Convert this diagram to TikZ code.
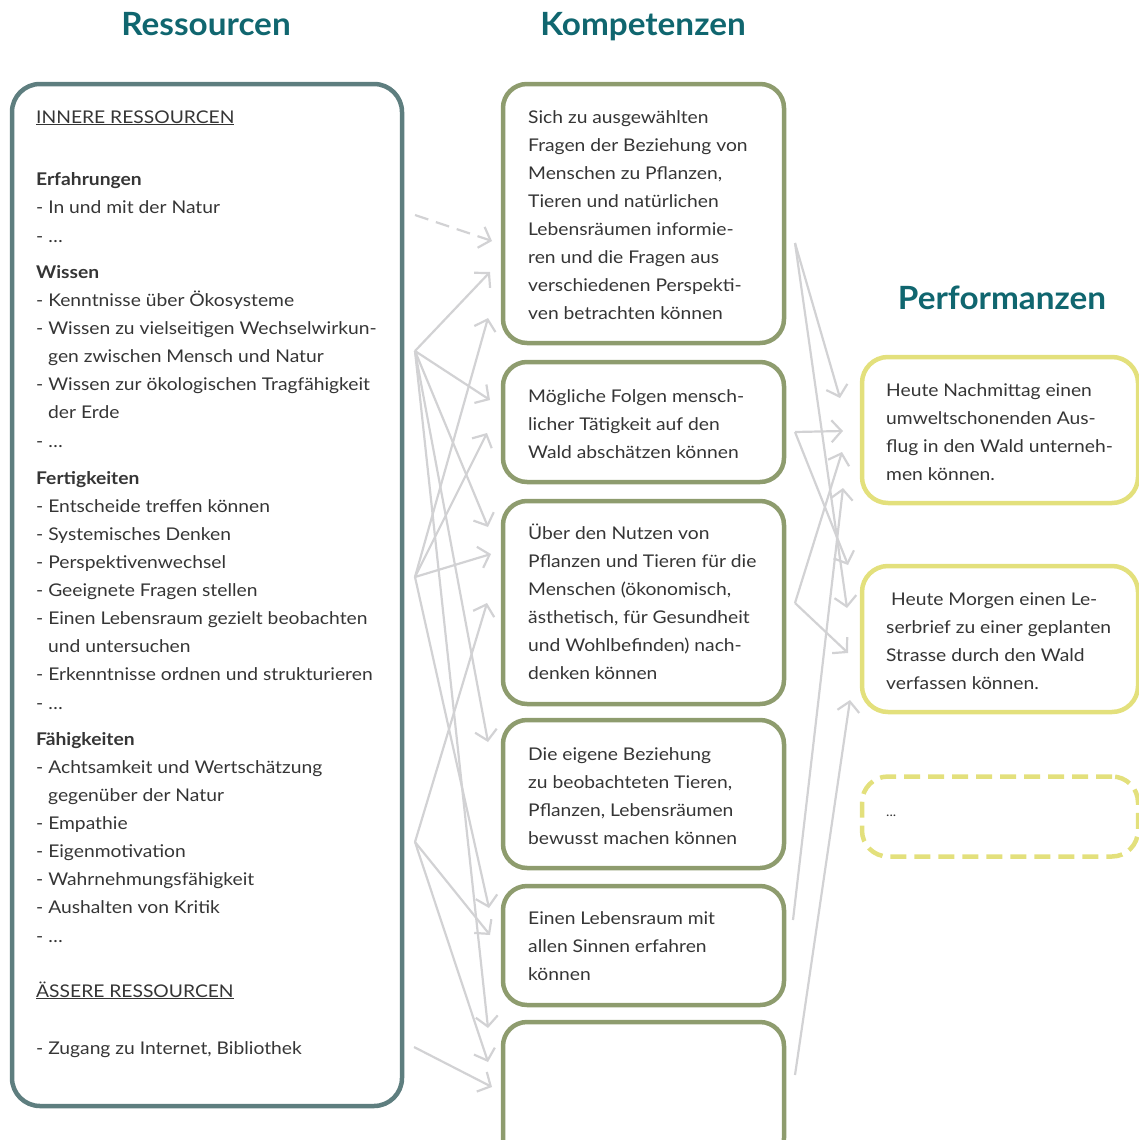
\documentclass[tikz,border=0pt]{standalone}
\usepackage{fontspec}
\setmainfont{Lato}[FakeStretch=1.1]
\newfontfamily\headfont{Lato}[FakeStretch=1.04]
\usetikzlibrary{arrows.meta}

\definecolor{headc}{HTML}{10666F}
\definecolor{textc}{HTML}{353535}
\definecolor{resc}{HTML}{5E7E7F}
\definecolor{kompc}{HTML}{8E9C6E}
\definecolor{perfc}{HTML}{E3E07C}
\definecolor{arrc}{HTML}{D2D2D4}

% lines of text set one below the other, 28pt apart
\newcommand\boxlines[4]{%
  \foreach \t [count=\k] in {#4} {\node[txt] (#1\k) at (#2,{#3+28*(\k-1)}) {\t};}}

\begin{document}
\begin{tikzpicture}[x=1pt,y=-1pt,
  txt/.style={anchor=base west, inner sep=0pt, text=textc,
    font=\fontsize{17.5}{21}\selectfont},
  head/.style={anchor=base, inner sep=0pt, text=headc,
    font=\headfont\fontsize{32}{36}\selectfont\bfseries},
  resbox/.style={draw=resc, line width=4.5pt, rounded corners=28pt,
    inner sep=0pt},
  kompbox/.style={draw=kompc, line width=4.5pt, rounded corners=24pt,
    inner sep=0pt, minimum width=281pt},
  perfbox/.style={draw=perfc, line width=4.5pt, rounded corners=26pt,
    inner sep=0pt, minimum width=276pt},
  link/.style={draw=arrc, line width=2.2pt,
    -{Straight Barb[length=10pt,width=22pt,line width=2.2pt]}},
]
\useasboundingbox (0,0) rectangle (1139,1140);

% headings
\node[head] (hres)  at (206,36)  {Ressourcen};
\node[head] (hkomp) at (643,36)  {Kompetenzen};
\node[head] (hperf) at (1002,309) {Performanzen};

% resources box
\node[resbox, minimum width=390pt, minimum height=1022pt] (res) at (207,595) {};
\foreach \px/\py/\t [count=\k] in {
  36/123/{\underline{INNERE RESSOURCEN}},
  36/185/{\textbf{Erfahrungen}},
  36/213/{- In und mit der Natur},
  36/242/{- …},
  36/278/{\textbf{Wissen}},
  36/306/{- Kenntnisse über Ökosysteme},
  36/334/{- Wissen zu vielseitigen Wechselwirkun-},
  48/362/{gen zwischen Mensch und Natur},
  36/390/{- Wissen zur ökologischen Tragfähigkeit},
  48/418/{der Erde},
  36/447/{- …},
  36/484/{\textbf{Fertigkeiten}},
  36/512/{- Entscheide treffen können},
  36/540/{- Systemisches Denken},
  36/568/{- Perspektivenwechsel},
  36/596/{- Geeignete Fragen stellen},
  36/624/{- Einen Lebensraum gezielt beobachten},
  48/652/{und untersuchen},
  36/680/{- Erkenntnisse ordnen und strukturieren},
  36/709/{- …},
  36/745/{\textbf{Fähigkeiten}},
  36/773/{- Achtsamkeit und Wertschätzung},
  48/801/{gegenüber der Natur},
  36/829/{- Empathie},
  36/857/{- Eigenmotivation},
  36/885/{- Wahrnehmungsfähigkeit},
  36/913/{- Aushalten von Kritik},
  36/942/{- …},
  36/997/{\underline{ÄSSERE RESSOURCEN}},
  36/1054/{- Zugang zu Internet, Bibliothek}}
  {\node[txt] (rl\k) at (\px,\py) {\t};}

% competence boxes
\node[kompbox, minimum height=259pt] (k1) at (643.5,213.5) {};
\node[kompbox, minimum height=120pt] (k2) at (643.5,422)   {};
\node[kompbox, minimum height=203pt] (k3) at (643.5,602.5) {};
\node[kompbox, minimum height=148pt] (k4) at (643.5,794)   {};
\node[kompbox, minimum height=119pt] (k5) at (643.5,945.5) {};
\node[kompbox, minimum height=140pt] (k6) at (643.5,1092)  {};

\boxlines{ka}{528}{123}{{Sich zu ausgewählten},{Fragen der Beziehung von},
  {Menschen zu Pflanzen,},{Tieren und natürlichen},{Lebensräumen informie-},
  {ren und die Fragen aus},{verschiedenen Perspekti-},{ven betrachten können}}
\boxlines{kb}{528}{402}{{Mögliche Folgen mensch-},{licher Tätigkeit auf den},
  {Wald abschätzen können}}
\boxlines{kc}{528}{539}{{Über den Nutzen von},{Pflanzen und Tieren für die},
  {Menschen (ökonomisch,},{ästhetisch, für Gesundheit},
  {und Wohlbefinden) nach-},{denken können}}
\boxlines{kd}{528}{760}{{Die eigene Beziehung},{zu beobachteten Tieren,},
  {Pflanzen, Lebensräumen},{bewusst machen können}}
\boxlines{ke}{528}{924}{{Einen Lebensraum mit},{allen Sinnen erfahren},{können}}

% performance boxes
\node[perfbox, minimum height=146pt] (p1) at (1000,430)   {};
\node[perfbox, minimum height=146pt] (p2) at (1000,639)   {};
\node[perfbox, minimum height=80pt, dash pattern=on 16pt off 8pt] (p3) at (1000,816.5) {};

\boxlines{pa}{886}{396}{{Heute Nachmittag einen},{umweltschonenden Aus-},
  {flug in den Wald unterneh-},{men können.}}
\node[txt] (pb1) at (891,605) {Heute Morgen einen Le-};
\boxlines{pbb}{886}{633}{{serbrief zu einer geplanten},{Strasse durch den Wald},
  {verfassen können.}}
\node[txt, font=\fontsize{13}{15}\selectfont] (pc) at (886,816) {...};

% connector ends: resources -> competences
\coordinate (sA) at (415,215);
\coordinate (sB) at (415,351);
\coordinate (sC) at (415,577);
\coordinate (sD) at (415,842);
\coordinate (sE) at (414,1047);
\coordinate (tA)  at (492,241);
\coordinate (tB1) at (490,272);
\coordinate (tC1) at (488,318);
\coordinate (tB2) at (490,400);
\coordinate (tC2) at (487,433);
\coordinate (tB3) at (488,527);
\coordinate (tC3) at (491,554);
\coordinate (tD1) at (487,603);
\coordinate (tB4) at (488,742);
\coordinate (tC4) at (489,908);
\coordinate (tD2) at (490,935);
\coordinate (tB5) at (488,1028);
\coordinate (tD3) at (488,1062);
\coordinate (tE)  at (492,1087);

\draw[link, dash pattern=on 14pt off 8pt] (sA) -- (tA);
\foreach \s/\t in {sB/tB1,sB/tB2,sB/tB3,sB/tB4,sB/tB5,
                   sC/tC1,sC/tC2,sC/tC3,sC/tC4,
                   sD/tD1,sD/tD2,sD/tD3,sE/tE}
  \draw[link] (\s) -- (\t);

% connector ends: competences -> performances
\coordinate (rA) at (795,243);
\coordinate (rB) at (795,432);
\coordinate (rC) at (795,603);
\coordinate (rD) at (793,920);
\coordinate (rE) at (795,1075);
\coordinate (uA1) at (840,398);
\coordinate (uA2) at (847,608);
\coordinate (uB1) at (843,431);
\coordinate (uB2) at (848,565);
\coordinate (uC1) at (842,452);
\coordinate (uC2) at (848,653);
\coordinate (uD)  at (843,488);
\coordinate (uE)  at (850,700);

\foreach \s/\t in {rA/uA1,rA/uA2,rB/uB1,rB/uB2,rC/uC1,rC/uC2,rD/uD,rE/uE}
  \draw[link] (\s) -- (\t);
\end{tikzpicture}
\end{document}
